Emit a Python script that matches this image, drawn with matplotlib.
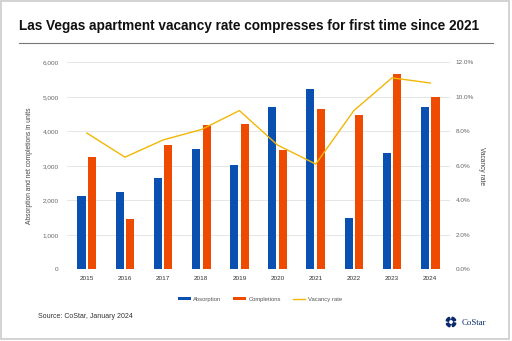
import matplotlib
matplotlib.use("Agg")
import matplotlib.pyplot as plt
from matplotlib.patches import Rectangle, Wedge
from matplotlib.lines import Line2D
from matplotlib.ticker import FuncFormatter, MultipleLocator
import numpy as np

years = ["2015", "2016", "2017", "2018", "2019", "2020", "2021", "2022", "2023", "2024"]
absorption = [2130, 2230, 2650, 3500, 3015, 4700, 5220, 1500, 3380, 4700]
completions = [3260, 1470, 3590, 4175, 4200, 3460, 4640, 4480, 5670, 5000]
vacancy = [7.9, 6.5, 7.5, 8.1, 9.2, 7.2, 6.1, 9.2, 11.1, 10.8]

BLUE = "#0a50b0"
ORANGE = "#ee4b00"
GOLD = "#f2b705"
GRAY = "#666666"

plt.rcParams['font.family'] = ['Liberation Sans', 'DejaVu Sans']

fig = plt.figure(figsize=(5.12, 3.41), dpi=100)
fig.patch.set_facecolor("white")

# border
fig.add_artist(Rectangle((0.002, 0.006), 0.992, 0.99, transform=fig.transFigure,
                         fill=False, edgecolor="#cccccc", linewidth=1.2))

fig.text(19/512, 1-26/341, "Las Vegas apartment vacancy rate compresses for first time since 2021",
         fontsize=9.85, fontweight="bold", va="center", ha="left", color="#111111")
fig.add_artist(Line2D([19/512, 493/512], [1-43/341, 1-43/341], transform=fig.transFigure,
                      color="#777777", linewidth=0.8))

ax = fig.add_axes([67/512, 1-269.3/341, (450-67)/512, (269.3-62.3)/341])
x = np.arange(len(years))
w = 0.21
ax.bar(x - 0.14, absorption, w, color=BLUE, label="Absorption", zorder=3)
ax.bar(x + 0.14, completions, w, color=ORANGE, label="Completions", zorder=3)
ax.set_ylim(0, 6000)
ax.set_xlim(-0.52, 9.52)
ax.yaxis.set_major_locator(MultipleLocator(1000))
ax.yaxis.set_major_formatter(FuncFormatter(lambda v, p: f"{int(v):,}"))
ax.grid(axis="y", color="#e6e6e6", linewidth=0.7, zorder=0)
ax.set_xticks(x)
ax.set_xticklabels(years)
for s in ax.spines.values():
    s.set_visible(False)
ax.tick_params(axis="both", length=0, labelsize=4.6, labelcolor=GRAY)
ax.tick_params(axis="x", labelcolor="#333333", pad=5)
ax.tick_params(axis="y", pad=6)
ax.set_ylabel("Absorption and net completions in units", fontsize=4.8, color="#444444", labelpad=7)

ax2 = ax.twinx()
ax2.plot(x, vacancy, color=GOLD, linewidth=1.0, label="Vacancy rate", zorder=4)
ax2.set_ylim(0, 12)
ax2.yaxis.set_major_locator(MultipleLocator(2))
ax2.yaxis.set_major_formatter(FuncFormatter(lambda v, p: f"{v:.1f}%"))
for s in ax2.spines.values():
    s.set_visible(False)
ax2.tick_params(axis="y", length=0, labelsize=4.6, labelcolor=GRAY, pad=4)
ax2.set_ylabel("Vacancy rate", fontsize=4.8, color="#444444", rotation=270, labelpad=8)

h1, l1 = ax.get_legend_handles_labels()
h2, l2 = ax2.get_legend_handles_labels()
fig.legend(h1 + h2, l1 + l2, loc="center", bbox_to_anchor=(260/512, 1-299/341), ncol=3,
           frameon=False, fontsize=4.2, handlelength=2.2, handleheight=0.6,
           columnspacing=2.0, handletextpad=0.4, labelcolor="#555555")

fig.text(38/512, 1-317/341, "Source: CoStar, January 2024", fontsize=5.0, color="#333333",
         va="center", ha="left")

# CoStar logo
logo_ax = fig.add_axes([441/512, 1-331/341, 20/512, 18/341])
logo_ax.set_xlim(-10, 10)
logo_ax.set_ylim(-9, 9)
logo_ax.set_aspect("equal")
logo_ax.axis("off")
for a0 in [20, 110, 200, 290]:
    logo_ax.add_patch(Wedge((0, 0), 5.0, a0, a0 + 55, width=2.4, color="#0b2a6b"))
fig.text(462/512, 1-323/341, "CoStar", fontsize=6.3, family="Liberation Serif", color="#0b2a6b",
         va="center", ha="left")

fig.savefig("out.png", dpi=100, facecolor="white")
